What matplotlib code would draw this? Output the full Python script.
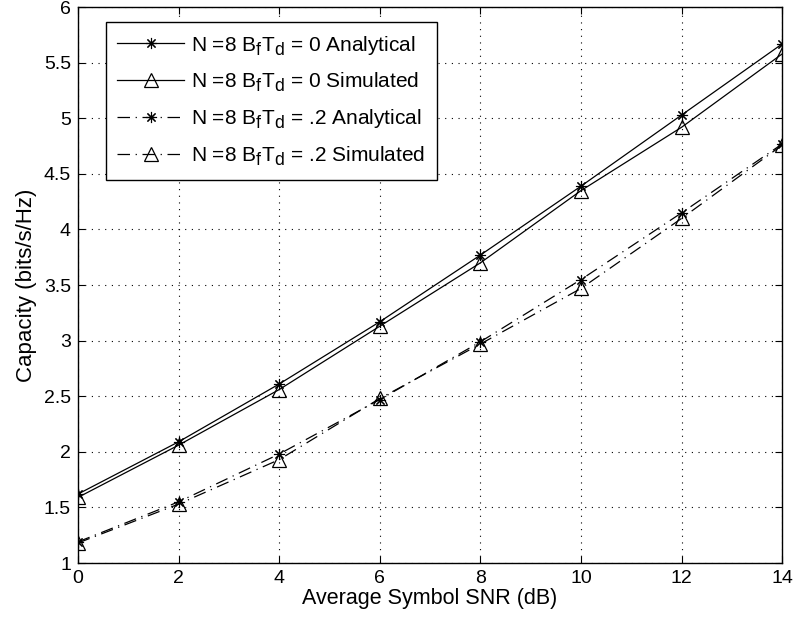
import matplotlib
matplotlib.use("Agg")
import matplotlib.pyplot as plt
import matplotlib._mathtext as mtext

plt.rcParams['font.family'] = ['Liberation Sans', 'DejaVu Sans']
plt.rcParams['mathtext.fontset'] = 'custom'
plt.rcParams['mathtext.rm'] = 'Liberation Sans'
plt.rcParams['mathtext.it'] = 'Liberation Sans'

# bigger, lower subscripts like the MATLAB TeX ones
mtext.SHRINK_FACTOR = 0.85
mtext.FontConstantsBase.sub1 = 0.45
mtext.FontConstantsBase.sub2 = 0.6

# data
snr = [0, 2, 4, 6, 8, 10, 12, 14]
an_0 = [1.62, 2.09, 2.61, 3.17, 3.77, 4.39, 5.03, 5.67]
sim_0 = [1.59, 2.06, 2.56, 3.13, 3.70, 4.35, 4.92, 5.58]
an_02 = [1.19, 1.55, 1.98, 2.47, 2.99, 3.55, 4.15, 4.77]
sim_02 = [1.18, 1.53, 1.93, 2.48, 2.97, 3.47, 4.10, 4.76]

labels = [r'N =8 B$\mathregular{_f}$T$\mathregular{_d}$ = 0 Analytical',
          r'N =8 B$\mathregular{_f}$T$\mathregular{_d}$ = 0 Simulated',
          r'N =8 B$\mathregular{_f}$T$\mathregular{_d}$ = .2 Analytical',
          r'N =8 B$\mathregular{_f}$T$\mathregular{_d}$ = .2 Simulated']

fig = plt.figure(figsize=(7.95, 6.26), dpi=100)
ax = fig.add_axes([0.098, 0.1006, 0.886, 0.888])

star = (8, 2, 0)
dashdot = (0, (10, 4.5, 1, 4.5))
ax.plot(snr, an_0, '-', color='k', lw=0.9, marker=star, ms=8, mew=0.8, label=labels[0])
ax.plot(snr, sim_0, '-', color='k', lw=0.9, marker='^', ms=10, mfc='none', mew=0.9, label=labels[1])
ax.plot(snr, an_02, linestyle=dashdot, color='k', lw=0.9, marker=star, ms=8, mew=0.8, label=labels[2])
ax.plot(snr, sim_02, linestyle=dashdot, color='k', lw=0.9, marker='^', ms=10, mfc='none', mew=0.9, label=labels[3])

ax.set_xlim(0, 14)
ax.set_ylim(1, 6)
ax.set_xticks(range(0, 15, 2))
ax.set_yticks([1, 1.5, 2, 2.5, 3, 3.5, 4, 4.5, 5, 5.5, 6])
ax.set_yticklabels(['1', '1.5', '2', '2.5', '3', '3.5', '4', '4.5', '5', '5.5', '6'])
ax.tick_params(direction='in', labelsize=14, length=5, top=True, right=True, pad=5)
ax.grid(True, color='k', linestyle=(0, (1, 5)), lw=0.8)
for s in ax.spines.values():
    s.set_linewidth(1.0)

ax.set_xlabel('Average Symbol SNR (dB)', fontsize=15.5, labelpad=1)
ax.set_ylabel('Capacity (bits/s/Hz)', fontsize=16, labelpad=5)

leg = ax.legend(loc='upper left', bbox_to_anchor=(28 / 704, 1 - 15 / 556),
                borderaxespad=0, fontsize=15, frameon=True, fancybox=False,
                edgecolor='k', framealpha=1, handlelength=3.2,
                handletextpad=0.35, labelspacing=0.62, borderpad=0.55)
leg.get_frame().set_linewidth(1.0)

fig.savefig('out.png', dpi=100)
